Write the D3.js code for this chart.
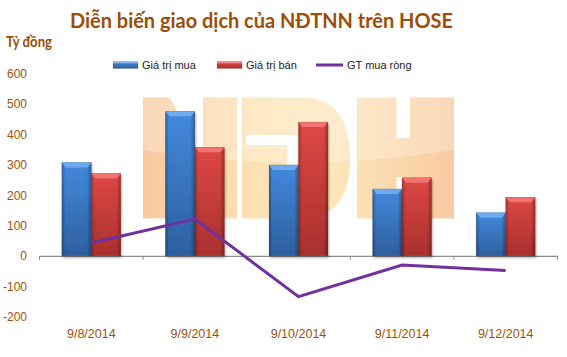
<!DOCTYPE html>
<html><head><meta charset="utf-8">
<script src="https://cdn.jsdelivr.net/npm/d3@7"></script>
<style>body{margin:0;background:#fff}svg{display:block}</style>
</head><body>
<svg id="c" width="567" height="357"></svg>
<script>
const categories = ["9/8/2014","9/9/2014","9/10/2014","9/11/2014","9/12/2014"];
const buyValues = [307, 475, 299, 220, 142];
const sellValues = [271, 357, 440, 257, 193];
const netValues = [42, 121, -134, -30, -48];
const yTicks = [-200,-100,0,100,200,300,400,500,600];
const seriesNames = ["Giá trị mua","Giá trị bán","GT mua ròng"];

const svg = d3.select("#c");
const defs = svg.append("defs");
const brown = "#a0520c";

function vgrad(id, stops){
  const g = defs.append("linearGradient").attr("id",id).attr("x1",0).attr("y1",0).attr("x2",0).attr("y2",1);
  stops.forEach(s=>g.append("stop").attr("offset",s[0]).attr("stop-color",s[1]));
}
function hgrad(id, stops){
  const g = defs.append("linearGradient").attr("id",id).attr("x1",0).attr("y1",0).attr("x2",1).attr("y2",0);
  stops.forEach(s=>g.append("stop").attr("offset",s[0]).attr("stop-color",s[1]).attr("stop-opacity",s[2]===undefined?1:s[2]));
}
vgrad("gBlue", [[0,"#4389dd"],[1,"#2d609f"]]);
vgrad("gRed", [[0,"#de4845"],[1,"#a9302e"]]);
hgrad("gEdge", [[0,"#000",0.28],[0.12,"#000",0],[0.85,"#000",0],[1,"#000",0.3]]);
const wm = defs.append("linearGradient").attr("id","gWm").attr("gradientUnits","userSpaceOnUse")
  .attr("x1",143).attr("y1",0).attr("x2",454).attr("y2",0);
[[0,"#f8c79a"],[0.4,"#fde3b3"],[0.6,"#fde6b8"],[1,"#f8c89c"]].forEach(s=>wm.append("stop").attr("offset",s[0]).attr("stop-color",s[1]));
const f = defs.append("filter").attr("id","sh").attr("x","-20%").attr("y","-5%").attr("width","140%").attr("height","115%");
f.append("feDropShadow").attr("dx",1).attr("dy",2).attr("stdDeviation",1.2).attr("flood-color","#000").attr("flood-opacity",0.3);

// scales
const x0 = d3.scaleBand().domain(categories).range([39.5, 557.5]);
const bw = x0.bandwidth();
const x1 = d3.scaleBand().domain(["buy","sell"]).range([bw/2-29.5, bw/2+29.5]);
const y = d3.scaleLinear().domain([-200, 600]).range([316.7, 73.3]);

// watermark NDH
const w = svg.append("g").attr("fill","url(#gWm)").attr("opacity",0.95);
w.append("path").attr("d","M143,97.5 L170,97.5 L203,160 L203,97.5 L237,97.5 L237,218.5 L210,218.5 L176,155 L176,218.5 L143,218.5 Z");
w.append("path").attr("fill-rule","evenodd").attr("d","M242,97.5 L305,97.5 Q350,100 350,158 Q350,216 305,218.5 L242,218.5 Z M246,135 L297,135 L297,175 L287,175 L287,145 L246,145 Z");
w.append("path").attr("d","M357,97.5 L396.5,97.5 L396.5,138 L410,138 L410,97.5 L454,97.5 L454,218.5 L410,218.5 L410,177 L396.5,177 L396.5,218.5 L357,218.5 Z");
// gloss
const clip = defs.append("clipPath").attr("id","wmclip");
w.selectAll("path").each(function(){ clip.append("path").attr("d", d3.select(this).attr("d")).attr("fill-rule","evenodd"); });
svg.append("path").attr("clip-path","url(#wmclip)").attr("fill","#fff").attr("opacity",0.25)
  .attr("d","M143,97 L454,97 L454,150 Q300,175 143,150 Z");

// axis line and ticks
const axisG = svg.append("g").attr("transform",`translate(0,${y(0)})`);
axisG.call(d3.axisBottom(x0).tickSize(0).tickFormat(""));
axisG.select(".domain").attr("stroke","#8c8c8c").attr("stroke-width",1.2);
const bounds = categories.map(c=>x0(c)).concat([x0.range()[1]]);
axisG.selectAll(".bt").data(bounds).join("line").attr("class","bt")
  .attr("x1",d=>d).attr("x2",d=>d).attr("y1",0).attr("y2",4).attr("stroke","#8c8c8c");

// x labels
svg.append("g").selectAll("text").data(categories).join("text")
  .attr("x",d=>x0(d)+bw/2).attr("y",338).attr("text-anchor","middle")
  .attr("font-family","Liberation Sans, Arial").attr("font-size",12.5).attr("fill",brown).text(d=>d);

// y labels
svg.append("g").selectAll("text").data(yTicks).join("text")
  .attr("x",27).attr("y",d=>y(d)+4.5).attr("text-anchor","end")
  .attr("font-family","Liberation Sans, Arial").attr("font-size",12).attr("fill",brown).text(d=>d);

// bars
function bar3d(g, x, top, bottom, wdt, grad, cap){
  const h = bottom - top;
  const b = g.append("g").attr("filter","url(#sh)");
  b.append("rect").attr("x",x).attr("y",top).attr("width",wdt).attr("height",h).attr("fill",`url(#${grad})`);
  b.append("rect").attr("x",x).attr("y",top).attr("width",wdt).attr("height",h).attr("fill","url(#gEdge)");
  b.append("path").attr("d",`M${x},${top} L${x+wdt},${top} L${x+wdt-4},${top+5} L${x+4},${top+5} Z`).attr("fill",cap);
  b.append("rect").attr("x",x).attr("y",top).attr("width",wdt).attr("height",h).attr("fill","none").attr("stroke","#000").attr("stroke-opacity",0.15).attr("stroke-width",0.6);
}
const barsG = svg.append("g");
categories.forEach((c,i)=>{
  bar3d(barsG, x0(c)+x1("buy"), y(buyValues[i]), y(0), x1.bandwidth(), "gBlue", "#6cabef");
  bar3d(barsG, x0(c)+x1("sell"), y(sellValues[i]), y(0), x1.bandwidth(), "gRed", "#f27372");
});

// net line
const line = d3.line().x((d,i)=>x0(categories[i])+bw/2).y(d=>y(d));
svg.append("path").datum(netValues).attr("d",line).attr("fill","none")
  .attr("stroke","#7030a0").attr("stroke-width",3);

// title
svg.append("text").attr("x",70).attr("y",28)
  .attr("font-family","Lato, Carlito, sans-serif").attr("font-weight",700).attr("font-size",21)
  .attr("textLength",383).attr("lengthAdjust","spacingAndGlyphs")
  .attr("fill","#9e4d08").text("Diễn biến giao dịch của NĐTNN trên HOSE");
svg.append("text").attr("x",6).attr("y",47)
  .attr("font-family","Lato, sans-serif").attr("font-weight",700).attr("font-size",14.5)
  .attr("textLength",46).attr("lengthAdjust","spacingAndGlyphs")
  .attr("fill","#9e4d08").text("Tỷ đồng");

// legend
const lg = svg.append("g").attr("font-family","Liberation Sans, Arial").attr("font-size",11).attr("fill","#222");
const legendItems = [
  {name:seriesNames[0], sx:113, tx:142, type:"bar", grad:"gBlue"},
  {name:seriesNames[1], sx:217, tx:246, type:"bar", grad:"gRed"},
  {name:seriesNames[2], sx:316, tx:347, type:"line"}
];
legendItems.forEach(it=>{
  if(it.type==="bar"){
    lg.append("rect").attr("x",it.sx).attr("y",61.5).attr("width",25).attr("height",7).attr("fill",`url(#${it.grad})`).attr("stroke","#000").attr("stroke-opacity",0.2).attr("stroke-width",0.5);
    lg.append("rect").attr("x",it.sx).attr("y",61.5).attr("width",25).attr("height",2).attr("fill","#fff").attr("opacity",0.35);
  } else {
    lg.append("line").attr("x1",it.sx).attr("x2",it.sx+27).attr("y1",65).attr("y2",65).attr("stroke","#7030a0").attr("stroke-width",3);
  }
  lg.append("text").attr("x",it.tx).attr("y",69).text(it.name);
});
</script>
</body></html>
